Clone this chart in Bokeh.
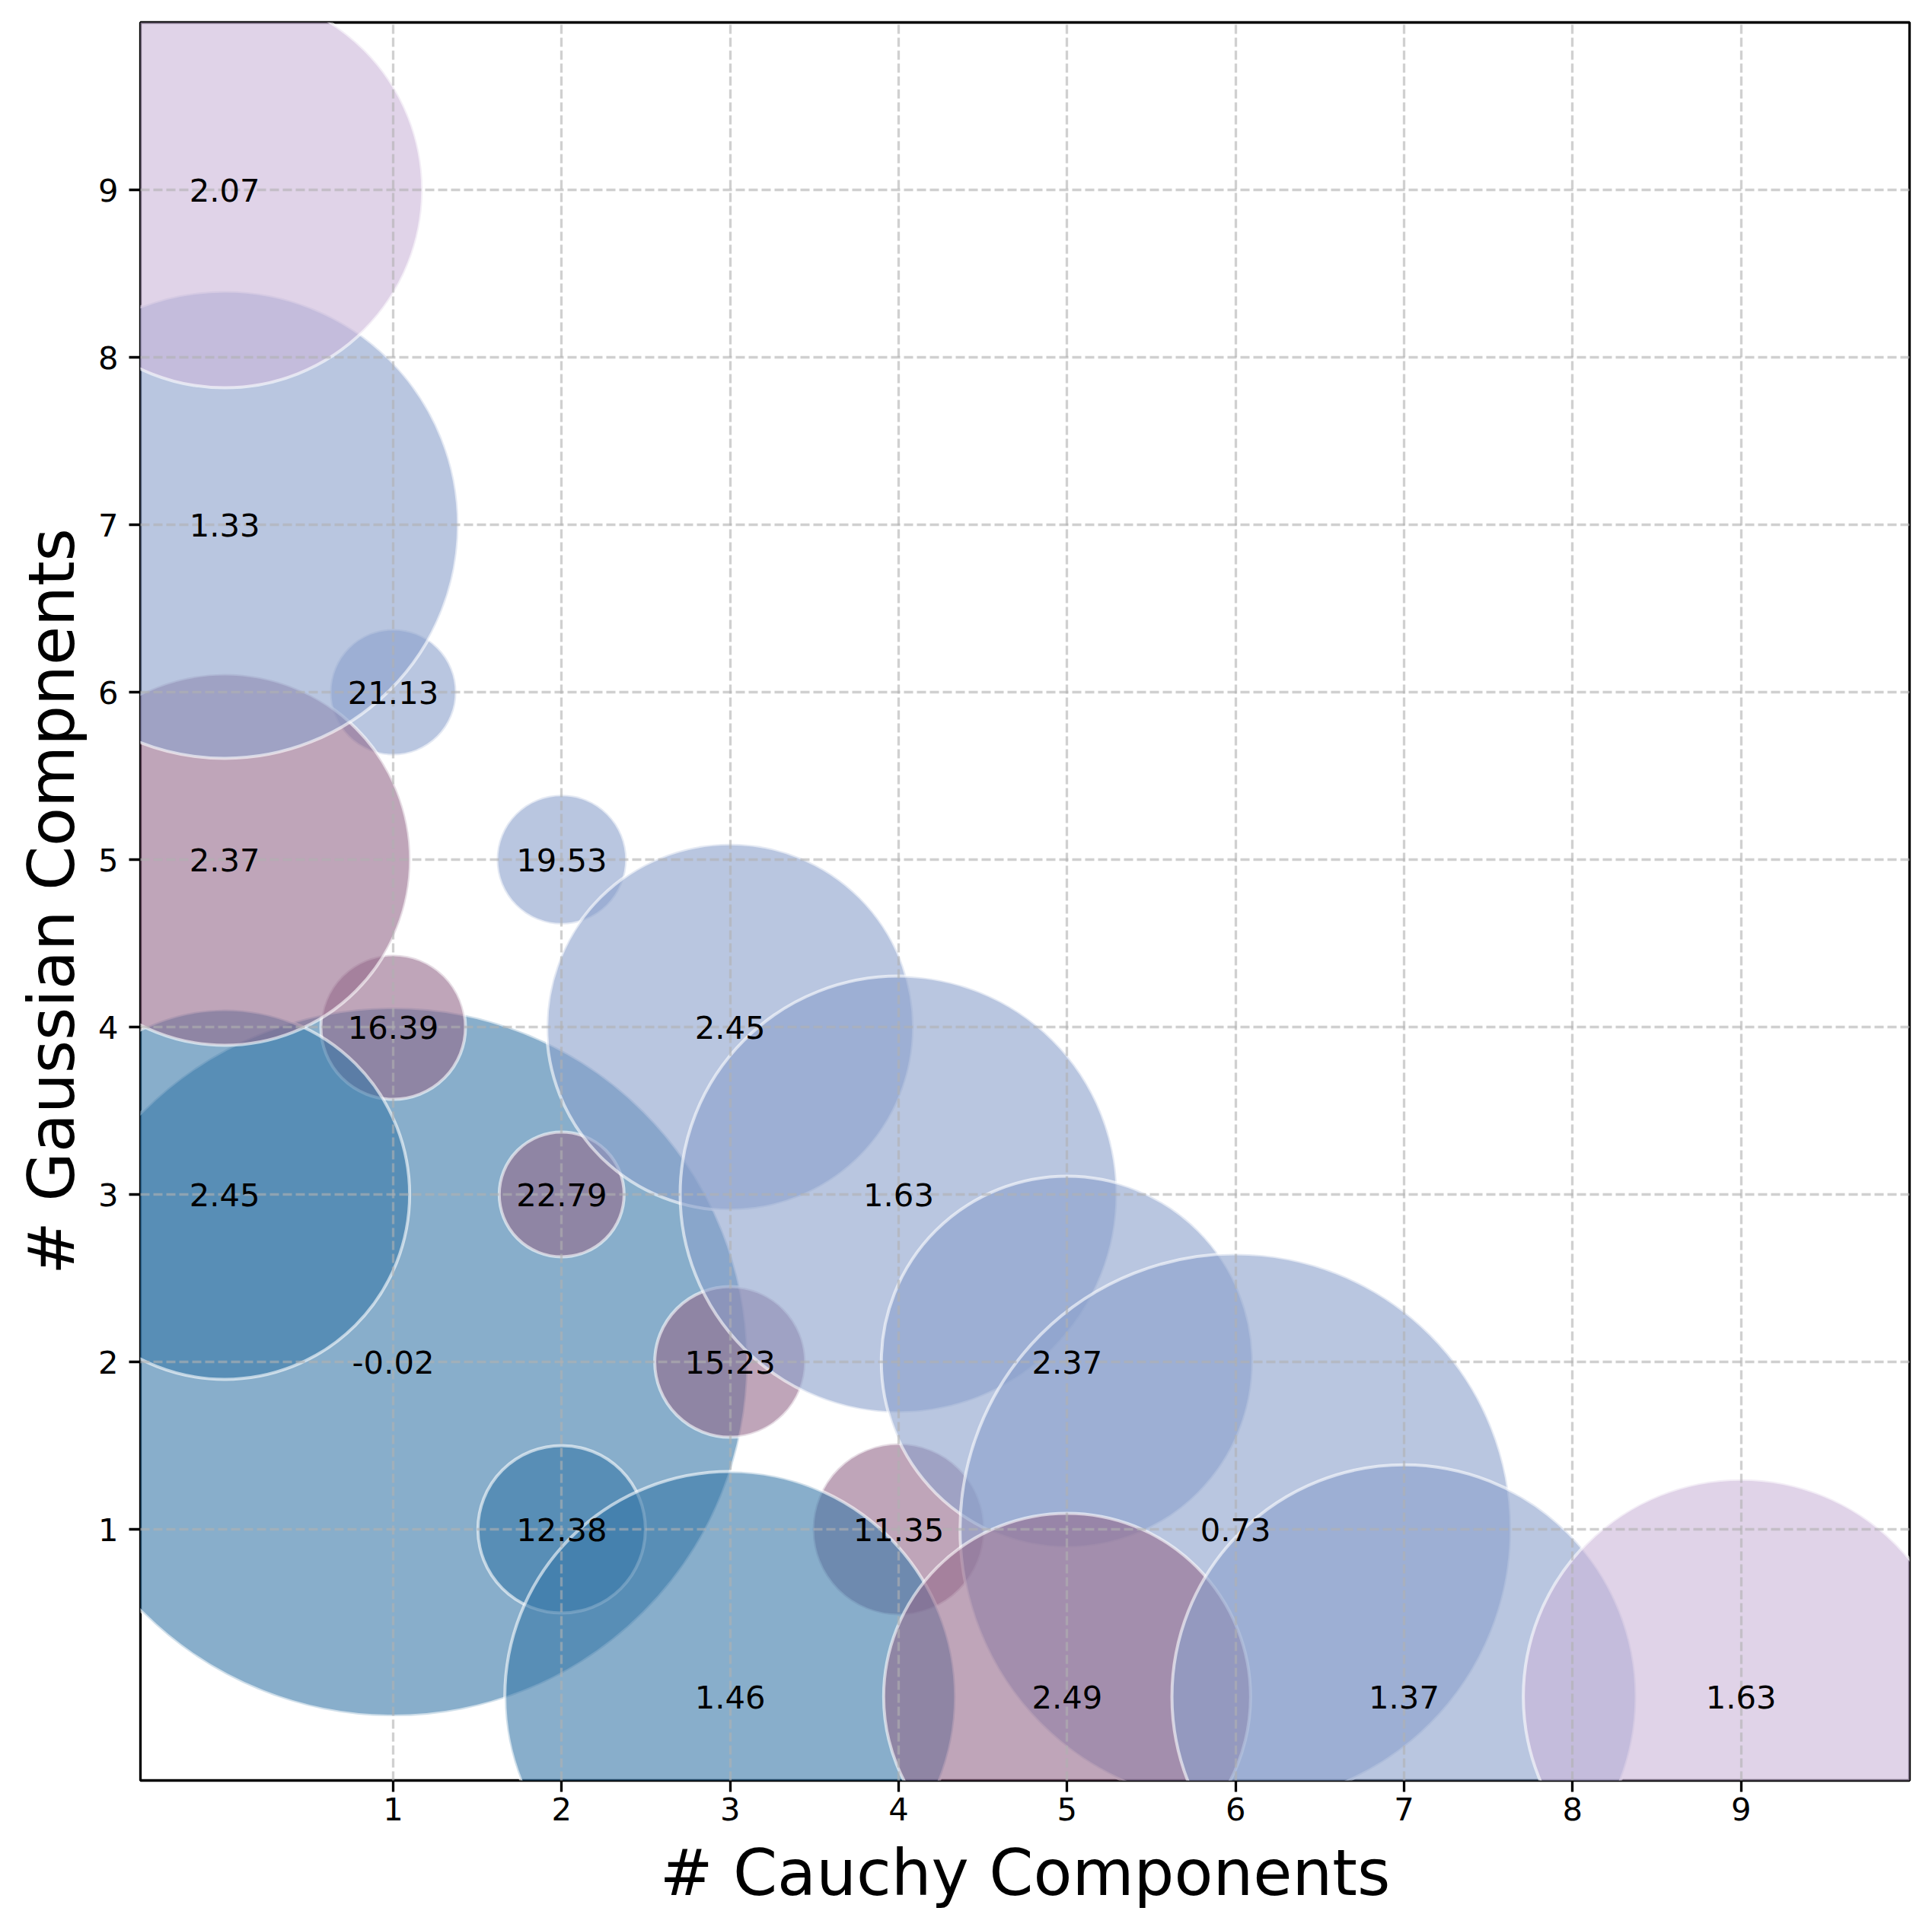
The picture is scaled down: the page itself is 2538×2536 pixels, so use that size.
import math
from bokeh.plotting import figure
from bokeh.models import Range1d, FixedTicker, ColumnDataSource
from bokeh.core.properties import value
from bokeh.embed import file_html
from bokeh.resources import INLINE

# ---- data (drawing order) ----
cauchy   = [1, 1, 1, 2, 2, 2, 3, 3, 4, 4, 5, 6, 3, 5, 7, 9, 0, 0, 0, 0]
gaussian = [2, 4, 6, 1, 3, 5, 2, 4, 1, 3, 2, 1, 0, 0, 0, 0, 3, 5, 7, 9]
score    = [-0.02, 16.39, 21.13, 12.38, 22.79, 19.53, 15.23, 2.45, 11.35, 1.63,
            2.37, 0.73, 1.46, 2.49, 1.37, 1.63, 2.45, 2.37, 1.33, 2.07]
# bubble weight (marker area, pt^2)
bubble_area = [50000, 2080, 1590, 2790, 1550, 1680, 2260, 13380, 2940, 18980,
               13720, 30190, 20190, 13380, 21430, 18850, 13600, 13720, 21720, 15580]
group = ["steel", "mauve", "peri", "steel", "mauve", "peri", "mauve", "peri", "mauve", "peri",
         "peri", "peri", "steel", "mauve", "peri", "lav", "steel", "mauve", "peri", "lav"]
palette = {"steel": "#3978a8", "mauve": "#94698a", "peri": "#8aa0cb", "lav": "#cbb6d9"}
ticks = [1, 2, 3, 4, 5, 6, 7, 8, 9]

PX_PER_PT = 300 / 72.0
FONT = "DejaVu Sans"

src = ColumnDataSource(dict(
    x=cauchy, y=gaussian,
    size=[math.sqrt(a) * PX_PER_PT for a in bubble_area],
    color=[palette[g] for g in group],
    label=["%.2f" % v for v in score],
))

W, H = 2522, 2520
p = figure(width=W, height=H, output_backend="svg", toolbar_location=None,
           x_range=Range1d(-0.5, 10), y_range=Range1d(-0.5, 10),
           min_border_left=184, min_border_top=29,
           min_border_right=W - 2508, min_border_bottom=H - 2339)
p.background_fill_color = "white"
p.border_fill_color = "white"
p.outline_line_color = "black"
p.outline_line_width = 3.3

p.scatter("x", "y", source=src, size="size", marker="circle",
          fill_color="color", fill_alpha=0.6,
          line_color="white", line_alpha=0.6, line_width=4)

t = p.text("x", "y", text="label", source=src, text_font=value(FONT),
           text_font_size="41.7px", text_align="center", text_baseline="middle",
           text_color="black")
t.level = "annotation"

for ax in (p.xaxis[0], p.yaxis[0]):
    ax.ticker = FixedTicker(ticks=ticks)
    ax.axis_line_color = None
    ax.major_tick_in = 0
    ax.major_tick_out = 15
    ax.major_tick_line_width = 3.3
    ax.major_tick_line_color = "black"
    ax.minor_tick_line_color = None
    ax.major_label_text_font = FONT
    ax.major_label_text_font_size = "41.7px"
    ax.major_label_text_color = "black"
    ax.axis_label_text_font = FONT
    ax.axis_label_text_font_size = "83.3px"
    ax.axis_label_text_font_style = "normal"
    ax.axis_label_text_color = "black"

p.xaxis.axis_label = "# Cauchy Components"
p.yaxis.axis_label = "# Gaussian Compnents"
p.xaxis.major_label_standoff = 7
p.xaxis.axis_label_standoff = 18
p.yaxis.major_label_standoff = 14
p.yaxis.axis_label_standoff = 9

for g in (p.xgrid[0], p.ygrid[0]):
    g.ticker = FixedTicker(ticks=ticks)
    g.grid_line_color = "#b0b0b0"
    g.grid_line_alpha = 0.6
    g.grid_line_width = 3.3
    g.grid_line_dash = "12 5"
    g.level = "guide"

open("out.html", "w").write(file_html(p, INLINE))
